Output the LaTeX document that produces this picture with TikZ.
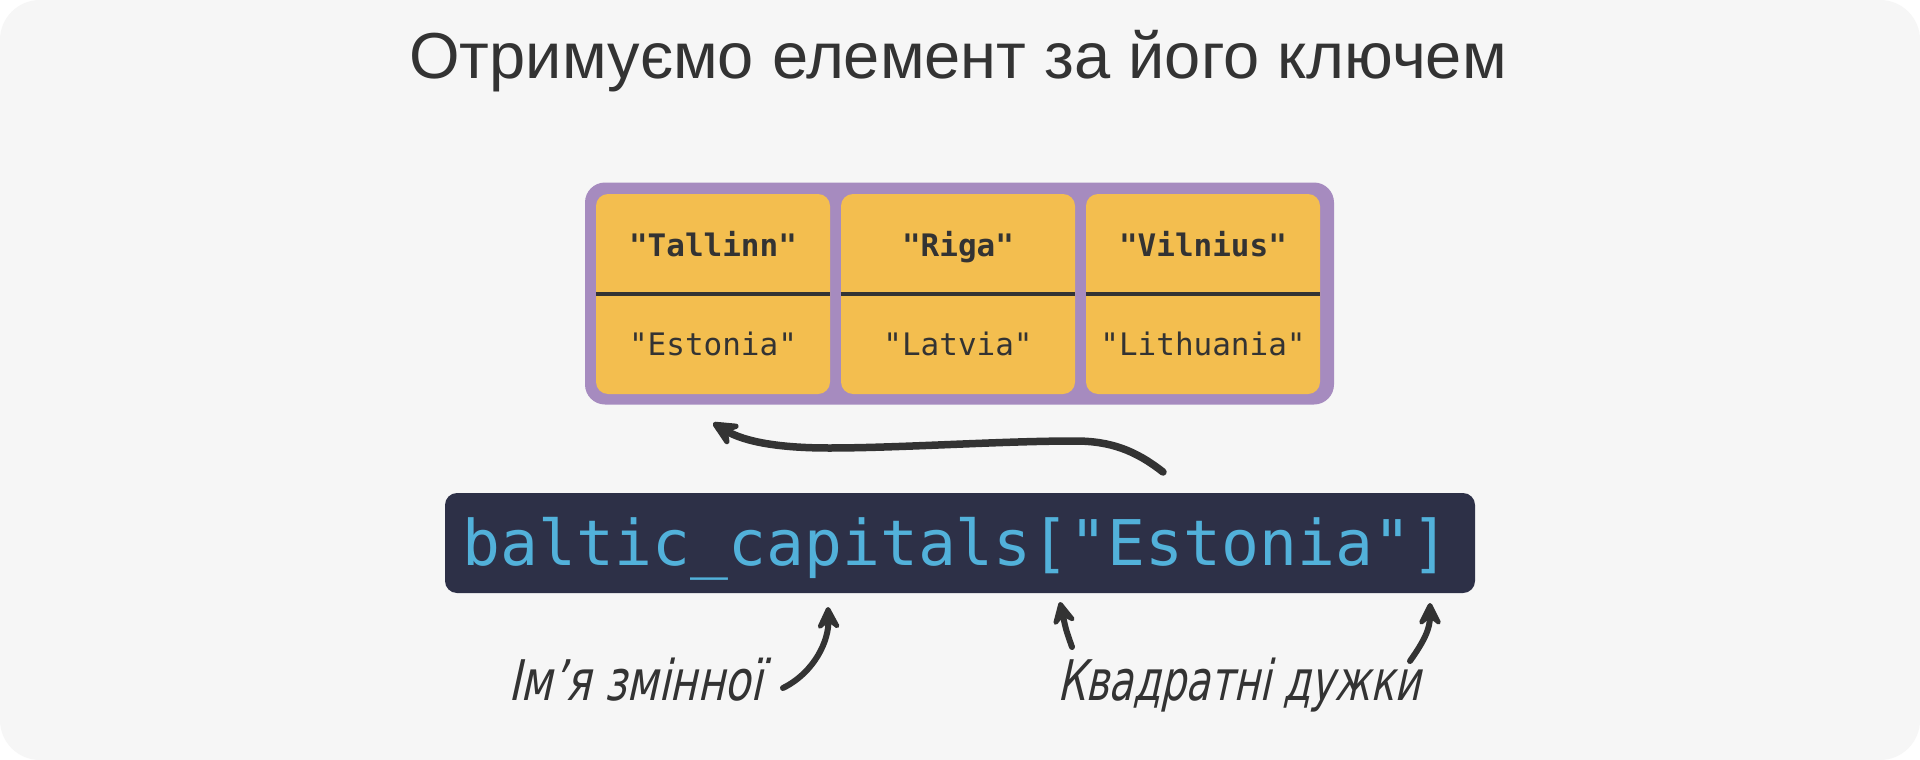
\documentclass[tikz,border=0pt]{standalone}
\usepackage{fontspec}
\setmainfont{Liberation Sans}
\newfontfamily\titlefont{Liberation Sans}
\newfontfamily\codefont{DejaVu Sans Mono}
\newfontfamily\handfont[FakeStretch=0.75,FakeSlant=0.22]{DejaVu Sans}
\newfontfamily\handfontb[FakeStretch=0.71,FakeSlant=0.22]{DejaVu Sans}
\usetikzlibrary{arrows.meta}
\definecolor{bgc}{HTML}{F6F6F6}
\definecolor{textc}{HTML}{333333}
\definecolor{purplec}{HTML}{A68BBF}
\definecolor{yellowc}{HTML}{F3BE4F}
\definecolor{codebg}{HTML}{2D3047}
\definecolor{codefg}{HTML}{52B1DA}
\tikzset{
  cellbox/.style={fill=yellowc, rounded corners=12pt, minimum width=234pt, minimum height=200pt, inner sep=0pt},
  keytext/.style={anchor=base, text=textc, font=\codefont\bfseries\fontsize{31}{36}\selectfont, inner sep=0pt},
  valtext/.style={anchor=base, text=textc, font=\codefont\fontsize{31}{36}\selectfont, inner sep=0pt},
  divider/.style={draw=textc, line width=4pt},
  handtext/.style={anchor=base west, text=textc, font=\handfont\fontsize{56}{60}\selectfont, inner sep=0pt},
  handtextb/.style={anchor=base west, text=textc, font=\handfontb\fontsize{56}{60}\selectfont, inner sep=0pt},
  harrow/.style={draw=textc, line width=6pt, line cap=round, -{Stealth[length=30pt,width=30pt,inset=12pt,round]}},
  bigarrow/.style={draw=textc, line width=7.5pt, line cap=round, -{Stealth[length=34pt,width=32pt,inset=13pt,round]}}
}
\begin{document}
\begin{tikzpicture}[x=1pt,y=-1pt]
\useasboundingbox (0,0) rectangle (1920,760);
\fill[white] (0,0) rectangle (1920,760);
\fill[bgc, rounded corners=40pt] (0,0) rectangle (1920,760);
% title
\node[anchor=base, text=textc, font=\titlefont\fontsize{65}{78}\selectfont, inner sep=0pt] (title) at (958,78) {Отримуємо елемент за його ключем};
% dictionary
\node[fill=purplec, rounded corners=20pt, minimum width=749pt, minimum height=222pt, inner sep=0pt] (dict) at (959.5,293.5) {};
\node[cellbox] (c1) at (713,294) {};
\node[cellbox] (c2) at (958,294) {};
\node[cellbox] (c3) at (1203,294) {};
\draw[divider] (c1.west) -- (c1.east);
\draw[divider] (c2.west) -- (c2.east);
\draw[divider] (c3.west) -- (c3.east);
\node[keytext] (k1) at (713,256) {"Tallinn"};
\node[keytext] (k2) at (958,256) {"Riga"};
\node[keytext] (k3) at (1203,256) {"Vilnius"};
\node[valtext] (v1) at (713,355) {"Estonia"};
\node[valtext] (v2) at (958,355) {"Latvia"};
\node[valtext] (v3) at (1203,355) {"Lithuania"};
% code
\node[fill=codebg, rounded corners=12pt, minimum width=1030pt, minimum height=100pt, inner sep=0pt] (code) at (960,543) {};
\node[anchor=base, text=codefg, font=\codefont\fontsize{63}{70}\selectfont, inner sep=0pt] (codetext) at (956,565) {baltic\_capitals["Estonia"]};
% top arrow
\coordinate (topTail) at (1163,472);
\coordinate (topTip) at (713,423);
\draw[bigarrow] (topTail) .. controls (1135,450) and (1110,441) .. (1075,441)
  .. controls (1000,441) and (900,448) .. (829,448)
  .. controls (780,448) and (745,442) .. (topTip);
% labels
\node[handtext] (lab1) at (508,700) {Ім’я змінної};
\node[handtextb] (lab2) at (1057,700) {Квадратні дужки};
\coordinate (a1tail) at (783,688);
\coordinate (a1tip) at (828,607);
\coordinate (a2tail) at (1072,647);
\coordinate (a2tip) at (1060,602);
\coordinate (a3tail) at (1410,661);
\coordinate (a3tip) at (1430,603);
\draw[harrow] (a1tail) .. controls (815,672) and (829,640) .. (a1tip);
\draw[harrow] (a2tail) .. controls (1066,630) .. (a2tip);
\draw[harrow] (a3tail) .. controls (1425,640) and (1430,628) .. (a3tip);
\end{tikzpicture}
\end{document}
